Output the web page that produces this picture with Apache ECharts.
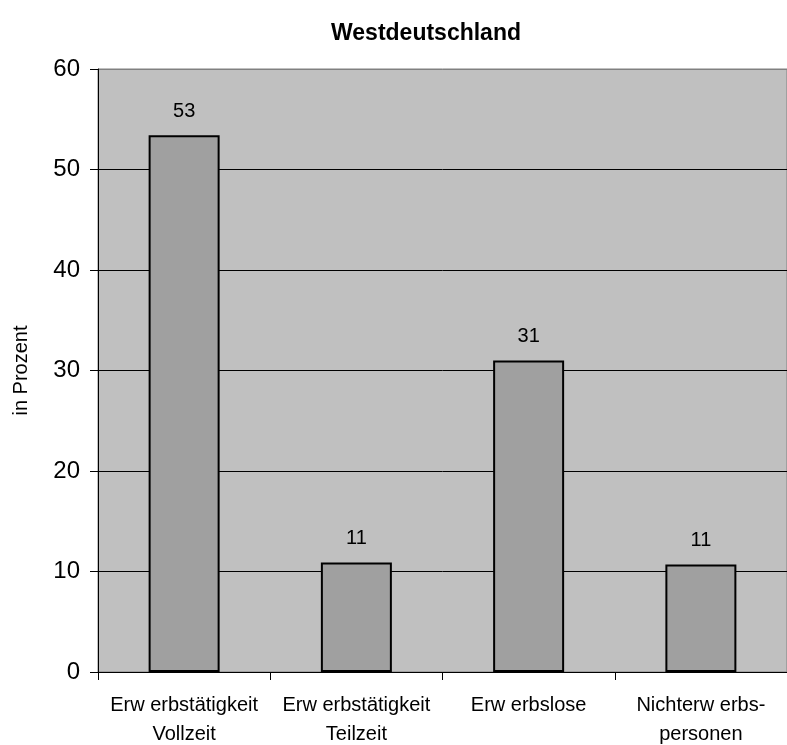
<!DOCTYPE html>
<html><head><meta charset="utf-8">
<script src="https://cdn.jsdelivr.net/npm/echarts@6/dist/echarts.min.js"></script>
<style>html,body{margin:0;padding:0;background:#fff}#c{width:787px;height:745px}</style>
</head><body><div id="c"></div>
<script>
const categories = ['Erw erbstätigkeit\nVollzeit', 'Erw erbstätigkeit\nTeilzeit', 'Erw erbslose', 'Nichterw erbs-\npersonen'];
const values = [53.4, 10.9, 31.0, 10.7];
const yTicks = [0, 10, 20, 30, 40, 50, 60];

const FONT = 'Liberation Sans, Arial, sans-serif';
const chart = echarts.init(document.getElementById('c'));
chart.setOption({
  animation: false,
  textStyle: { fontFamily: FONT },
  title: {
    text: 'Westdeutschland', left: 421, top: 17, textAlign: 'center',
    textStyle: { fontSize: 23, fontWeight: 'bold', color: '#000', fontFamily: FONT }
  },
  grid: { left: 98, top: 69, right: 0, bottom: 73, outerBoundsMode: 'none', containLabel: false,
    show: true, backgroundColor: '#c0c0c0', borderColor: '#808080', borderWidth: 1 },
  xAxis: {
    type: 'category', data: categories,
    axisLine: { lineStyle: { color: '#000', width: 1 } },
    axisTick: { show: true, length: 8, lineStyle: { color: '#000' } },
    axisLabel: { fontSize: 20, color: '#000', lineHeight: 29, margin: 19, interval: 0 }
  },
  yAxis: {
    type: 'value', min: yTicks[0], max: yTicks[yTicks.length - 1], interval: 10,
    name: 'in Prozent', nameLocation: 'middle', nameGap: 67, nameRotate: 90,
    nameTextStyle: { fontSize: 20, color: '#000' },
    axisLine: { show: true, lineStyle: { color: '#000', width: 1 } },
    axisTick: { show: true, length: 8, lineStyle: { color: '#000' } },
    axisLabel: { fontSize: 24, color: '#000', margin: 18 },
    splitLine: { show: true, lineStyle: { color: ['#000', '#000', '#000', '#000', '#000', '#000', '#808080'], width: 1 } }
  },
  series: [{
    type: 'bar', data: values, barWidth: 71,
    itemStyle: { color: '#a0a0a0', borderColor: '#000', borderWidth: 2 },
    label: { show: true, position: 'top', distance: 14, fontSize: 20, color: '#000',
      formatter: p => String(Math.round(p.value)) }
  }]
});
</script></body></html>
